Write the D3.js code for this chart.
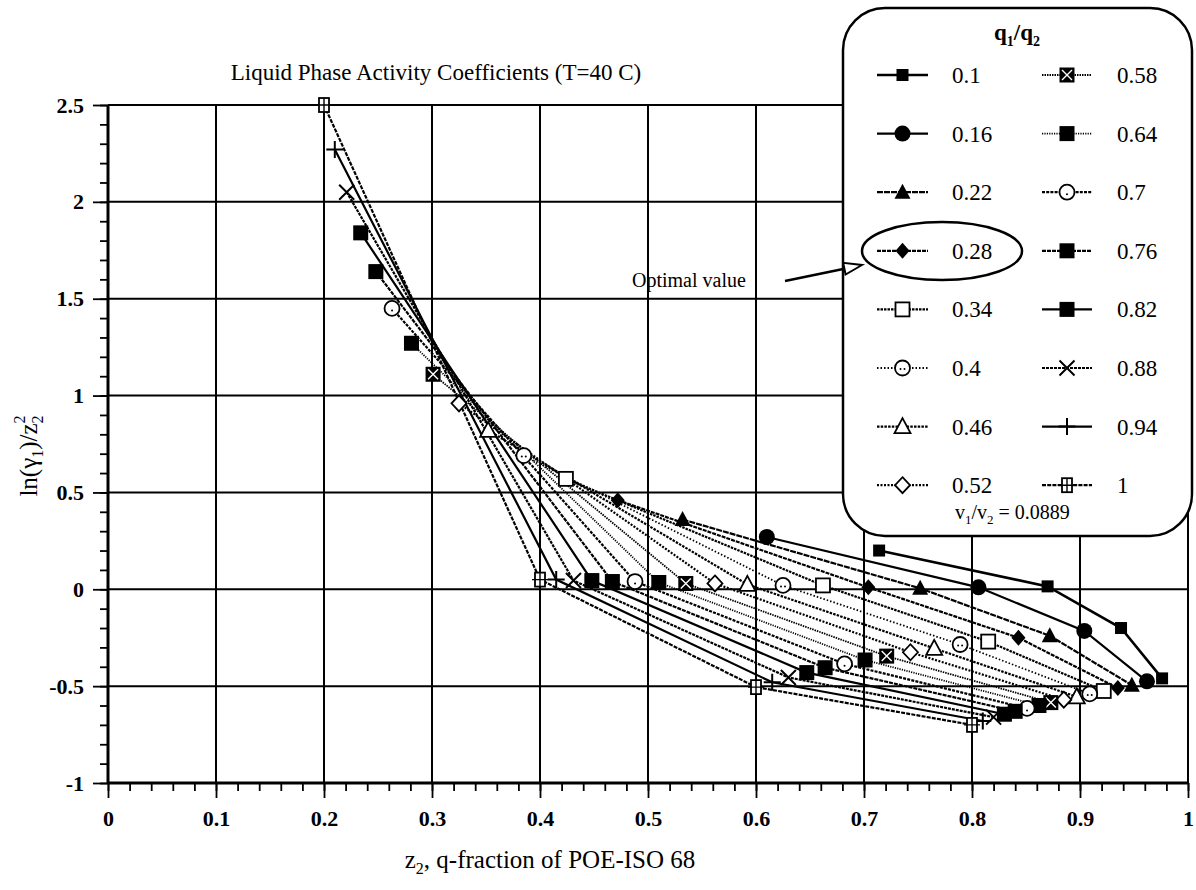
<!DOCTYPE html>
<html>
<head>
<meta charset="utf-8">
<script src="https://cdn.jsdelivr.net/npm/d3@7"></script>
<style>
  html, body { margin: 0; padding: 0; background: #fff; }
  svg { display: block; font-family: "Liberation Serif", "Times New Roman", serif; }
</style>
</head>
<body>
<svg id="chart" width="1196" height="890"></svg>
<script>
// q1/q2 ratio of each curve
const ratioLabels = ["0.1", "0.16", "0.22", "0.28", "0.34", "0.4", "0.46", "0.52",
                     "0.58", "0.64", "0.7", "0.76", "0.82", "0.88", "0.94", "1"];

// z2 (q-fraction of POE-ISO 68) at oil mass fractions 0.2, 0.4, 0.6, 0.8
const z2AtW20 = [0.714, 0.610, 0.532, 0.472, 0.424, 0.385, 0.352, 0.325,
                 0.301, 0.281, 0.263, 0.248, 0.234, 0.221, 0.210, 0.200];
const z2AtW40 = [0.870, 0.806, 0.752, 0.704, 0.662, 0.625, 0.592, 0.562,
                 0.535, 0.510, 0.488, 0.467, 0.448, 0.431, 0.415, 0.400];
const z2AtW60 = [0.938, 0.904, 0.872, 0.843, 0.815, 0.789, 0.765, 0.743,
                 0.721, 0.701, 0.682, 0.664, 0.647, 0.630, 0.615, 0.600];
const z2AtW80 = [0.976, 0.962, 0.948, 0.935, 0.922, 0.909, 0.897, 0.885,
                 0.873, 0.862, 0.851, 0.840, 0.830, 0.820, 0.810, 0.800];

// ln(gamma1)/z2^2 at the same four compositions
const lnAtW20 = [0.20, 0.27, 0.36, 0.46, 0.57, 0.69, 0.82, 0.96,
                 1.11, 1.27, 1.45, 1.64, 1.84, 2.05, 2.27, 2.50];
const lnAtW40 = [0.015, 0.01, 0.005, 0.01, 0.02, 0.02, 0.025, 0.03,
                 0.03, 0.035, 0.04, 0.04, 0.045, 0.045, 0.05, 0.05];
const lnAtW60 = [-0.20, -0.215, -0.24, -0.25, -0.27, -0.285, -0.305, -0.325,
                 -0.345, -0.365, -0.385, -0.405, -0.43, -0.455, -0.48, -0.505];
const lnAtW80 = [-0.46, -0.475, -0.495, -0.51, -0.525, -0.54, -0.555, -0.57,
                 -0.585, -0.60, -0.615, -0.63, -0.645, -0.66, -0.68, -0.70];

// axis ticks
const xTicks = [0, 0.1, 0.2, 0.3, 0.4, 0.5, 0.6, 0.7, 0.8, 0.9, 1];
const xTickLabels = ["0", "0.1", "0.2", "0.3", "0.4", "0.5", "0.6", "0.7", "0.8", "0.9", "1"];
const yTicks = [-1, -0.5, 0, 0.5, 1, 1.5, 2, 2.5];
const yTickLabels = ["-1", "-0.5", "0", "0.5", "1", "1.5", "2", "2.5"];

// drawing styles, one per curve
const markerKinds = ["sqFill", "circFill", "triFill", "diaFill", "sqOpen", "circDot", "triOpen", "diaOpen",
                     "sqX", "bigSq", "circOpen", "bigSq", "bigSq", "cross", "plus", "sqPlus"];
const dashStyles = [null, null, "6,1", "4,1", "2.5,1", "1.5,2", "2.5,1.2", "2,1.5",
                    "1.5,1", "1.2,1.2", "3,1.2", "4,1", null, "3,1", null, "4,1.2"];
const lineWidths = [2.6, 2.2, 2.2, 2.2, 2.2, 1.8, 2.2, 2.2, 1.8, 1.8, 2.2, 2.2, 2.2, 2.2, 2.2, 2.2];

const svg = d3.select("#chart");
const x = d3.scaleLinear().domain([0, 1]).range([108, 1188]);
const y = d3.scaleLinear().domain([-1, 2.5]).range([783, 105]);

// grid
const grid = svg.append("g").attr("stroke", "#000").attr("stroke-width", 2);
grid.selectAll("line.h").data(yTicks.filter(v => v > -1)).join("line")
  .attr("x1", x(0)).attr("x2", x(1)).attr("y1", d => y(d)).attr("y2", d => y(d));
grid.selectAll("line.v").data(xTicks.filter(v => v > 0)).join("line")
  .attr("x1", d => x(d)).attr("x2", d => x(d)).attr("y1", y(-1)).attr("y2", y(2.5));

// axes: major ticks with labels, minor ticks without
const fmtX = d => xTickLabels[xTicks.indexOf(d)];
const fmtY = d => yTickLabels[yTicks.indexOf(d)];
const minorX = d3.range(0, 1.0001, 0.02).map(v => +v.toFixed(2));
const minorY = d3.range(-1, 2.5001, 0.1).map(v => +v.toFixed(1));

const xAxisMinor = svg.append("g").attr("transform", `translate(0,${y(-1)})`)
  .call(d3.axisBottom(x).tickValues(minorX).tickSize(8).tickFormat(""));
const xAxis = svg.append("g").attr("transform", `translate(0,${y(-1)})`)
  .call(d3.axisBottom(x).tickValues(xTicks).tickSize(15).tickPadding(12).tickFormat(fmtX));
const yAxisMinor = svg.append("g").attr("transform", `translate(${x(0)},0)`)
  .call(d3.axisLeft(y).tickValues(minorY).tickSize(8).tickFormat(""));
const yAxis = svg.append("g").attr("transform", `translate(${x(0)},0)`)
  .call(d3.axisLeft(y).tickValues(yTicks).tickSize(15).tickPadding(9).tickFormat(fmtY));

[xAxisMinor, xAxis, yAxisMinor, yAxis].forEach(a => {
  a.select(".domain").attr("stroke", "#000").attr("stroke-width", 3);
  a.selectAll(".tick line").attr("stroke", "#000").attr("stroke-width", 1.8);
  a.selectAll(".tick text").attr("fill", "#000")
    .attr("font-family", "Liberation Serif, Times New Roman, serif")
    .attr("font-size", 22).attr("font-weight", "bold");
});
xAxis.select(".domain").attr("d", `M${x(0)},0H${x(1)}`);
yAxis.select(".domain").attr("d", `M0,${y(-1)}V${y(2.5)}`);
xAxisMinor.select(".domain").remove();
yAxisMinor.select(".domain").remove();

// curves
const series = ratioLabels.map((label, i) => ({
  label,
  points: [[z2AtW20[i], lnAtW20[i]], [z2AtW40[i], lnAtW40[i]],
           [z2AtW60[i], lnAtW60[i]], [z2AtW80[i], lnAtW80[i]]]
}));
const line = d3.line().x(d => x(d[0])).y(d => y(d[1]));

svg.append("g").selectAll("path").data(series).join("path")
  .attr("d", d => line(d.points))
  .attr("fill", "none").attr("stroke", "#000")
  .attr("stroke-width", (d, i) => lineWidths[i])
  .attr("stroke-dasharray", (d, i) => dashStyles[i]);

function drawMarker(g, kind) {
  const sw = 1.8;
  switch (kind) {
    case "sqFill":
      g.append("rect").attr("x", -6).attr("y", -6).attr("width", 12).attr("height", 12).attr("fill", "#000"); break;
    case "bigSq":
      g.append("rect").attr("x", -7.5).attr("y", -7.5).attr("width", 15).attr("height", 15).attr("fill", "#000"); break;
    case "circFill":
      g.append("circle").attr("r", 8).attr("fill", "#000"); break;
    case "triFill":
      g.append("path").attr("d", "M0,-8.5L8,6.5L-8,6.5Z").attr("fill", "#000"); break;
    case "diaFill":
      g.append("path").attr("d", "M0,-8L7,0L0,8L-7,0Z").attr("fill", "#000"); break;
    case "sqOpen":
      g.append("rect").attr("x", -7).attr("y", -7).attr("width", 14).attr("height", 14)
        .attr("fill", "#fff").attr("stroke", "#000").attr("stroke-width", sw); break;
    case "circDot":
      g.append("circle").attr("r", 7.5).attr("fill", "#fff").attr("stroke", "#000").attr("stroke-width", sw);
      g.append("circle").attr("cx", -2).attr("cy", 1).attr("r", 1).attr("fill", "#000");
      g.append("circle").attr("cx", 2).attr("cy", 1).attr("r", 1).attr("fill", "#000"); break;
    case "circOpen":
      g.append("circle").attr("r", 7.5).attr("fill", "#fff").attr("stroke", "#000").attr("stroke-width", sw);
      g.append("circle").attr("cx", 0).attr("cy", 2).attr("r", 1).attr("fill", "#000"); break;
    case "triOpen":
      g.append("path").attr("d", "M0,-8.5L8,6.5L-8,6.5Z")
        .attr("fill", "#fff").attr("stroke", "#000").attr("stroke-width", sw); break;
    case "diaOpen":
      g.append("path").attr("d", "M0,-8L7.5,0L0,8L-7.5,0Z")
        .attr("fill", "#fff").attr("stroke", "#000").attr("stroke-width", sw); break;
    case "sqX":
      g.append("rect").attr("x", -7.5).attr("y", -7.5).attr("width", 15).attr("height", 15).attr("fill", "#000");
      g.append("path").attr("d", "M-5,-5L5,5M5,-5L-5,5").attr("stroke", "#fff").attr("stroke-width", 1.4); break;
    case "cross":
      g.append("path").attr("d", "M-7.5,-7.5L7.5,7.5M7.5,-7.5L-7.5,7.5").attr("stroke", "#000").attr("stroke-width", 2); break;
    case "plus":
      g.append("path").attr("d", "M-8.5,0H8.5M0,-8.5V8.5").attr("stroke", "#000").attr("stroke-width", 2); break;
    case "sqPlus":
      g.append("rect").attr("x", -5).attr("y", -7).attr("width", 10).attr("height", 14)
        .attr("fill", "#fff").attr("stroke", "#000").attr("stroke-width", sw);
      g.append("path").attr("d", "M-8,0H8M0,-7V7").attr("stroke", "#000").attr("stroke-width", 1.4); break;
  }
}

// markers
const markerLayer = svg.append("g");
series.forEach((s, i) => {
  s.points.forEach(p => {
    const g = markerLayer.append("g").attr("transform", `translate(${x(p[0])},${y(p[1])})`);
    drawMarker(g, markerKinds[i]);
  });
});

// title and axis titles
svg.append("text").attr("x", 436).attr("y", 80).attr("text-anchor", "middle")
  .attr("font-size", 23).text("Liquid Phase Activity Coefficients (T=40 C)");

const xt = svg.append("text").attr("x", 550).attr("y", 868).attr("text-anchor", "middle").attr("font-size", 25);
xt.append("tspan").text("z");
xt.append("tspan").attr("font-size", 16).attr("dy", 6).text("2");
xt.append("tspan").attr("dy", -6).text(", q-fraction of POE-ISO 68");

const yt = svg.append("text").attr("transform", "translate(37,456) rotate(-90)")
  .attr("text-anchor", "middle").attr("font-size", 25);
yt.append("tspan").text("ln(γ");
yt.append("tspan").attr("font-size", 16).attr("dy", 6).text("1");
yt.append("tspan").attr("dy", -6).text(")/z");
yt.append("tspan").attr("font-size", 16).attr("dy", 6).text("2");
yt.append("tspan").attr("font-size", 16).attr("dx", -8).attr("dy", -18).text("2");

// legend
const legend = svg.append("g");
legend.append("rect").attr("x", 843).attr("y", 8).attr("width", 349).attr("height", 528)
  .attr("rx", 42).attr("ry", 42).attr("fill", "#fff").attr("stroke", "#000").attr("stroke-width", 2.5);

const lt = legend.append("text").attr("x", 1017).attr("y", 40).attr("text-anchor", "middle")
  .attr("font-size", 23).attr("font-weight", "bold");
lt.append("tspan").text("q");
lt.append("tspan").attr("font-size", 14).attr("dy", 6).text("1");
lt.append("tspan").attr("dy", -6).text("/q");
lt.append("tspan").attr("font-size", 14).attr("dy", 6).text("2");

series.forEach((s, i) => {
  const col = i < 8 ? 0 : 1;
  const row = i % 8;
  const cy = 75 + row * 58.6;
  const x0 = col ? 1042 : 877, x1 = col ? 1092 : 928;
  legend.append("line").attr("x1", x0).attr("x2", x1).attr("y1", cy).attr("y2", cy)
    .attr("stroke", "#000").attr("stroke-width", lineWidths[i]).attr("stroke-dasharray", dashStyles[i]);
  drawMarker(legend.append("g").attr("transform", `translate(${(x0 + x1) / 2},${cy})`), markerKinds[i]);
  legend.append("text").attr("x", col ? 1117 : 952).attr("y", cy + 8).attr("font-size", 23).text(s.label);
});

const vt = legend.append("text").attr("x", 955).attr("y", 519).attr("font-size", 20);
vt.append("tspan").text("v");
vt.append("tspan").attr("font-size", 13).attr("dy", 5).text("1");
vt.append("tspan").attr("dy", -5).text("/v");
vt.append("tspan").attr("font-size", 13).attr("dy", 5).text("2");
vt.append("tspan").attr("dy", -5).text(" = 0.0889");

// highlight of the chosen ratio
svg.append("ellipse").attr("cx", 942).attr("cy", 251).attr("rx", 80).attr("ry", 29)
  .attr("fill", "none").attr("stroke", "#000").attr("stroke-width", 2.5);

svg.append("text").attr("x", 632).attr("y", 287).attr("font-size", 20).text("Optimal value");

const ax0 = 785, ay0 = 281, ax1 = 862, ay1 = 265;
const ang = Math.atan2(ay1 - ay0, ax1 - ax0);
const hl = 18, hw = 6;
const bx = ax1 - hl * Math.cos(ang), by = ay1 - hl * Math.sin(ang);
svg.append("line").attr("x1", ax0).attr("y1", ay0).attr("x2", bx).attr("y2", by)
  .attr("stroke", "#000").attr("stroke-width", 2.5);
svg.append("path")
  .attr("d", `M${ax1},${ay1}L${bx - hw * Math.sin(ang)},${by + hw * Math.cos(ang)}L${bx + hw * Math.sin(ang)},${by - hw * Math.cos(ang)}Z`)
  .attr("fill", "#fff").attr("stroke", "#000").attr("stroke-width", 2);
</script>
</body>
</html>
